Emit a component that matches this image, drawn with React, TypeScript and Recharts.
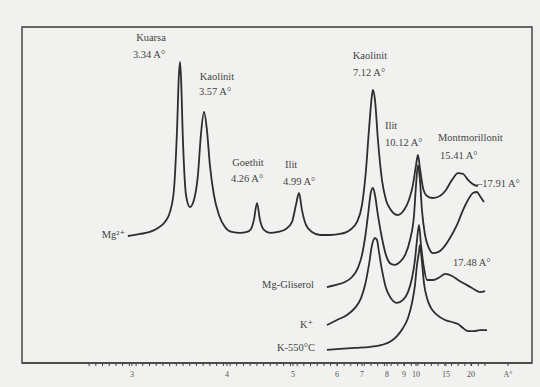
import React from 'react';
import { LineChart, Line, XAxis, YAxis, ReferenceArea } from 'recharts';

// XRD scans, x = 2θ (deg), y = relative intensity
const mgScan: [number, number][] = [
  [30.11, 37.8], [29.21, 38.4], [28.47, 39.0], [27.87, 40.2], [27.35, 42.0], [26.98, 44.9],
  [26.68, 51.5], [26.45, 69.3], [26.31, 85.7], [26.23, 89.6], [26.16, 85.7], [26.01, 66.4],
  [25.78, 50.0], [25.49, 46.4], [25.19, 48.5], [24.89, 56.0], [24.67, 67.9], [24.44, 74.7],
  [24.22, 69.3], [24.0, 58.9], [23.7, 50.0], [23.32, 44.0], [22.88, 40.5], [22.36, 39.0],
  [21.76, 38.7], [21.24, 39.0], [20.94, 39.9], [20.72, 42.6], [20.49, 47.6], [20.27, 42.6],
  [19.97, 39.6], [19.52, 38.7], [18.93, 39.0], [18.33, 39.9], [17.88, 42.0], [17.59, 47.0],
  [17.36, 50.6], [17.14, 45.5], [16.84, 41.1], [16.39, 39.0], [15.8, 38.1], [15.05, 38.1],
  [14.31, 38.4], [13.56, 39.6], [13.04, 42.0], [12.67, 47.0], [12.37, 57.4], [12.15, 69.3],
  [11.92, 79.8], [11.85, 81.3], [11.7, 78.3], [11.48, 66.4], [11.18, 54.5], [10.88, 48.5],
  [10.51, 45.5], [9.99, 44.0], [9.54, 45.5], [9.17, 48.5], [8.87, 53.0], [8.64, 58.9],
  [8.5, 61.9], [8.35, 58.0], [8.12, 52.1], [7.82, 49.7], [7.38, 49.1], [6.86, 49.7],
  [6.41, 51.5], [5.96, 54.5], [5.51, 56.5], [5.14, 56.3], [4.77, 54.5], [4.32, 53.0], [4.02, 52.7],
];

const glycerolScan: [number, number][] = [
  [15.28, 22.6], [14.68, 23.2], [13.94, 24.1], [13.41, 25.6], [12.97, 28.3], [12.67, 32.1],
  [12.44, 37.2], [12.22, 44.0], [12.0, 50.9], [11.85, 52.1], [11.7, 50.0], [11.48, 44.0],
  [11.18, 37.2], [10.88, 32.1], [10.51, 29.5], [10.21, 29.2], [9.84, 30.1], [9.46, 32.1],
  [9.09, 36.6], [8.79, 44.0], [8.64, 53.0], [8.5, 58.9], [8.35, 54.5], [8.2, 45.5],
  [7.97, 38.1], [7.68, 34.2], [7.38, 32.7], [7.0, 33.0], [6.63, 34.2], [6.11, 37.2],
  [5.59, 41.1], [5.14, 45.5], [4.77, 48.5], [4.4, 50.6], [4.1, 50.9], [3.88, 49.7], [3.58, 47.9],
];

const kScan: [number, number][] = [
  [15.28, 11.3], [14.53, 12.8], [13.79, 14.3], [13.19, 16.4], [12.74, 19.3], [12.44, 23.2],
  [12.15, 29.2], [11.92, 35.1], [11.7, 37.2], [11.55, 36.6], [11.4, 33.0], [11.18, 27.7],
  [10.88, 22.3], [10.51, 19.3], [10.06, 17.9], [9.61, 18.8], [9.24, 21.1], [8.94, 25.3],
  [8.72, 30.7], [8.57, 36.6], [8.42, 41.1], [8.27, 35.1], [8.05, 28.3], [7.82, 24.7],
  [7.38, 24.7], [6.86, 25.6], [6.48, 26.5], [5.96, 25.9], [5.51, 24.7], [4.99, 23.5],
  [4.47, 22.3], [3.88, 21.1], [3.5, 21.4],
];

const k550Scan: [number, number][] = [
  [15.28, 3.9], [14.31, 4.2], [13.19, 4.5], [12.07, 4.8], [11.18, 5.4], [10.58, 6.3],
  [10.06, 8.0], [9.61, 10.4], [9.24, 13.4], [8.94, 17.9], [8.72, 23.2], [8.57, 29.2],
  [8.42, 33.0], [8.35, 35.1], [8.2, 30.1], [8.05, 23.8], [7.82, 19.3], [7.53, 16.4],
  [7.08, 14.3], [6.48, 12.8], [5.96, 12.2], [5.51, 11.6], [5.14, 10.4], [4.77, 9.5],
  [4.32, 9.5], [3.88, 9.8], [3.35, 9.8],
];

// d-spacing tick labels and where they sit on the 2θ axis
const tickLabels = ['3', '4', '5', '6', '7', '8', '9', '10', '15', '20', 'A°'];
const tickPositions = [29.81, 22.73, 17.81, 14.53, 12.67, 10.81, 9.54, 8.64, 6.41, 4.55, 1.79];

const toRows = (s: [number, number][]) => s.map(([t, i]) => ({ t, i }));

const minorTicks: number[] = [];
for (let v = 3.5; v <= 33; v += 0.5) minorTicks.push(v);
const allTicks = [...tickPositions, ...minorTicks];

const ink = '#2e2e2e';
const font = '"Liberation Serif", "DejaVu Serif", serif';

const AxisTick = (props: any) => {
  const { x, y, payload } = props;
  const idx = tickPositions.indexOf(payload.value);
  if (idx < 0) return <g />;
  return (
    <text x={x} y={y + 9} textAnchor="middle" fontSize={8} fontFamily={font} fill="#555">
      {tickLabels[idx]}
    </text>
  );
};

const notes: { text: string; x: number; y: number; anchor?: string }[] = [
  { text: 'Kuarsa', x: 151, y: 41 },
  { text: '3.34 A°', x: 149, y: 58 },
  { text: 'Kaolinit', x: 217, y: 80 },
  { text: '3.57 A°', x: 215, y: 95 },
  { text: 'Goethit', x: 248, y: 166 },
  { text: '4.26 A°', x: 247, y: 182 },
  { text: 'Ilit', x: 285, y: 168, anchor: 'start' },
  { text: '4.99 A°', x: 283, y: 185, anchor: 'start' },
  { text: 'Kaolinit', x: 370, y: 59 },
  { text: '7.12 A°', x: 369, y: 76 },
  { text: 'Ilit', x: 385, y: 129, anchor: 'start' },
  { text: '10.12 A°', x: 385, y: 146, anchor: 'start' },
  { text: 'Montmorillonit', x: 438, y: 141, anchor: 'start' },
  { text: '15.41 A°', x: 440, y: 159, anchor: 'start' },
  { text: '–17.91 A°', x: 477, y: 187, anchor: 'start' },
  { text: '17.48 A°', x: 453, y: 266, anchor: 'start' },
  { text: 'Mg²⁺', x: 125, y: 238, anchor: 'end' },
  { text: 'Mg-Gliserol', x: 314, y: 288, anchor: 'end' },
  { text: 'K⁺', x: 313, y: 328, anchor: 'end' },
  { text: 'K-550°C', x: 315, y: 351, anchor: 'end' },
];

export default function App() {
  return (
    <div style={{ position: 'absolute', left: 0, top: 0, width: 540, height: 387, background: '#f1f1ef' }}>
      <LineChart width={540} height={387} margin={{ top: 27, right: 8, bottom: 0, left: 22 }}>
        <XAxis
          type="number"
          dataKey="t"
          domain={[0, 38]}
          reversed
          ticks={allTicks}
          interval={0}
          tick={<AxisTick />}
          tickSize={3}
          height={24}
          stroke="#444"
          axisLine={{ stroke: '#444', strokeWidth: 1.5 }}
        />
        <YAxis type="number" domain={[0, 100]} hide width={0} />
        <ReferenceArea x1={0} x2={38} y1={0} y2={100} fill="none" stroke="#3a3a3a" strokeWidth={1.4} />
        <Line data={toRows(mgScan)} dataKey="i" type="monotone" stroke={ink} strokeWidth={1.8} dot={false} isAnimationActive={false} />
        <Line data={toRows(glycerolScan)} dataKey="i" type="monotone" stroke={ink} strokeWidth={1.8} dot={false} isAnimationActive={false} />
        <Line data={toRows(kScan)} dataKey="i" type="monotone" stroke={ink} strokeWidth={1.8} dot={false} isAnimationActive={false} />
        <Line data={toRows(k550Scan)} dataKey="i" type="monotone" stroke={ink} strokeWidth={1.8} dot={false} isAnimationActive={false} />
      </LineChart>
      <svg width={540} height={387} style={{ position: 'absolute', left: 0, top: 0, pointerEvents: 'none' }}>
        {notes.map((n, k) => (
          <text key={k} x={n.x} y={n.y} textAnchor={n.anchor || 'middle'} fontSize={10.5} fontFamily={font} fill="#444">
            {n.text}
          </text>
        ))}
      </svg>
    </div>
  );
}
